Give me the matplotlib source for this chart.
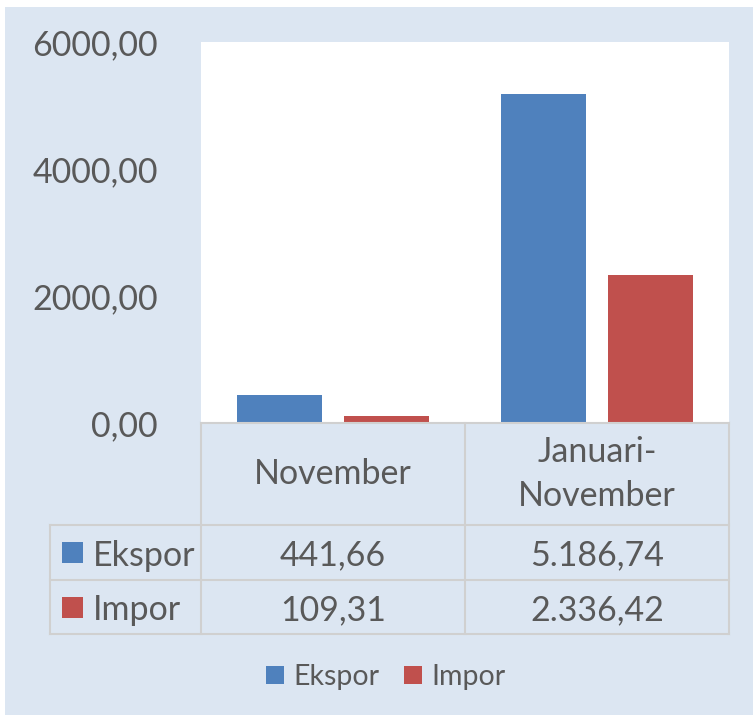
import matplotlib
matplotlib.use("Agg")
import matplotlib.pyplot as plt
from matplotlib.patches import Rectangle
from matplotlib.lines import Line2D

categories = ["November", "Januari-\nNovember"]
series_names = ["Ekspor", "Impor"]
ekspor = [441.66, 5186.74]
impor = [109.31, 2336.42]
ekspor_labels = ["441,66", "5.186,74"]
impor_labels = ["109,31", "2.336,42"]
yticks = [0, 2000, 4000, 6000]
ytick_labels = ["0,00", "2000,00", "4000,00", "6000,00"]

colors = ["#4F81BD", "#C0504D"]
bg = "#DCE6F2"
txt = "#595959"
grid = "#D0D0D0"
FONT = ["Lato", "DejaVu Sans"]
plt.rcParams["font.family"] = FONT

W, H = 753, 715
fig = plt.figure(figsize=(W / 100, H / 100), dpi=100)
fig.patch.set_facecolor("white")

def fx(px):
    return px / W

def fy(py):
    return 1 - py / H

# background panel
fig.patches.append(Rectangle((fx(5), 0), 1 - fx(5), fy(7), transform=fig.transFigure,
                             facecolor=bg, edgecolor="none", zorder=-5))

ax_l, ax_r, ax_t, ax_b = 201, 729, 42, 423
ax = fig.add_axes([fx(ax_l), fy(ax_b), fx(ax_r) - fx(ax_l), fy(ax_t) - fy(ax_b)])
ax.set_zorder(1)
ax.set_facecolor("white")
for s in ax.spines.values():
    s.set_visible(False)

x = list(range(len(categories)))
bw = 0.322
off = 0.2045
ax.bar([i - off for i in x], ekspor, width=bw, color=colors[0], zorder=2)
ax.bar([i + off for i in x], impor, width=bw, color=colors[1], zorder=2)
ax.set_xlim(-0.5, len(categories) - 0.5)
ax.set_ylim(0, 6000)
ax.set_xticks([])
ax.set_yticks(yticks)
ax.set_yticklabels(ytick_labels)
ax.tick_params(axis="y", length=0, pad=31, labelsize=24.5, labelcolor=txt)

# table grid
def hline(y, x0, x1):
    fig.add_artist(Line2D([fx(x0), fx(x1)], [fy(y), fy(y)], transform=fig.transFigure,
                          color=grid, lw=1.5, zorder=3))

def vline(xp, y0, y1):
    fig.add_artist(Line2D([fx(xp), fx(xp)], [fy(y0), fy(y1)], transform=fig.transFigure,
                          color=grid, lw=1.5, zorder=3))

row_top, r1, r2, r3 = 423, 525, 580, 634
col_edges = [201, 465, 729]
hline(row_top, 201, 729)
for y in (r1, r2, r3):
    hline(y, 50, 729)
for xp in col_edges:
    vline(xp, row_top, r3)
vline(50, r1, r3)

col_centers = [(col_edges[i] + col_edges[i + 1]) / 2 for i in range(len(categories))]
for cx, cat in zip(col_centers, categories):
    fig.text(fx(cx), fy((row_top + r1) / 2), cat, ha="center", va="center",
             fontsize=24.5, color=txt, linespacing=1.5)

rows = [ekspor_labels, impor_labels]
row_centers = [(r1 + r2) / 2, (r2 + r3) / 2]
for name, col, vals, cy in zip(series_names, colors, rows, row_centers):
    fig.patches.append(Rectangle((fx(62), fy(cy + 10.5)), fx(21), 21 / H,
                                 transform=fig.transFigure, facecolor=col,
                                 edgecolor="none", zorder=4))
    fig.text(fx(93), fy(cy), name, ha="left", va="center_baseline", fontsize=24.5, color=txt)
    for cx, v in zip(col_centers, vals):
        fig.text(fx(cx), fy(cy), v, ha="center", va="center_baseline", fontsize=24.5, color=txt)

# legend
leg_y = 675
leg_sq = [266, 404]
for name, col, sx in zip(series_names, colors, leg_sq):
    fig.patches.append(Rectangle((fx(sx), fy(leg_y + 9)), fx(18), 18 / H,
                                 transform=fig.transFigure, facecolor=col,
                                 edgecolor="none", zorder=4))
    fig.text(fx(sx + 27), fy(leg_y), name, ha="left", va="center_baseline",
             fontsize=20.5, color=txt)

fig.savefig("out.png", dpi=100, facecolor=fig.get_facecolor())
